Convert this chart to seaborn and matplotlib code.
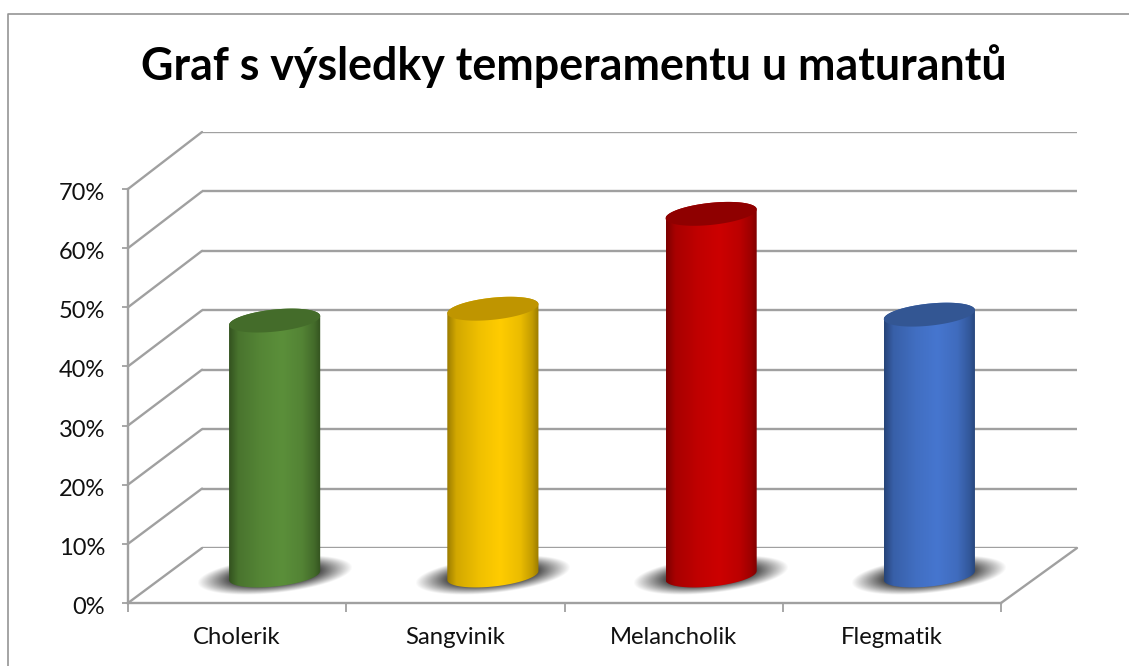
import numpy as np
import matplotlib
matplotlib.use("Agg")
import matplotlib.pyplot as plt
from matplotlib.colors import LinearSegmentedColormap, to_rgb
from matplotlib.lines import Line2D
from matplotlib.patches import Polygon, ConnectionPatch
from matplotlib.transforms import ScaledTranslation
import seaborn as sns

categories = ["Cholerik", "Sangvinik", "Melancholik", "Flegmatik"]
values = [43, 45, 61, 44]
y_ticks = [0, 10, 20, 30, 40, 50, 60, 70]
title = "Graf s výsledky temperamentu u maturantů"

# edge, centre and cap colour of each cylinder
edge_colors = ["#33521f", "#9a7b00", "#7c0000", "#264478"]
mid_colors = ["#5b8f3a", "#ffcc00", "#cc0000", "#4676cf"]
cap_colors = ["#446c2a", "#bf9500", "#8f0000", "#335693"]

W, H = 1129, 666
GRID = "#a0a0a0"
TILT = np.radians(6)
CAP_B = 11  # px, minor half axis of the cylinder ends

sns.set_theme(style="white")
plt.rcParams["font.family"] = ["Lato", "DejaVu Sans"]


def plane_axes(fig, left, right, y0, y70, zorder):
    ax = fig.add_axes([left / W, 1 - y0 / H, (right - left) / W, (y0 - y70) / H])
    ax.set_xlim(-0.5, 3.5)
    ax.set_ylim(0, 70)
    ax.patch.set_alpha(0)
    ax.set_zorder(zorder)
    return ax


def tilted(cx, cy, a, b, t, ppx, ppy):
    # tilted ellipse given in pixels, returned in data units
    x = a * np.cos(t) * np.cos(TILT) - b * np.sin(t) * np.sin(TILT)
    y = a * np.cos(t) * np.sin(TILT) + b * np.sin(t) * np.cos(TILT)
    return np.column_stack([cx + x / ppx, cy + y / ppy])


def blend(c1, c2, f):
    return tuple((1 - f) * np.array(to_rgb(c1)) + f * np.array(to_rgb(c2)))


fig = plt.figure(figsize=(W / 100, H / 100), dpi=100, facecolor="white")
# chart frame: only its top and left edges are inside the picture
fig.add_artist(Line2D([7.5 / W, 7.5 / W, 1], [0, 1 - 13.5 / H, 1 - 13.5 / H], transform=fig.transFigure,
                      color="#959595", linewidth=1.2))
fig.text(573.5 / W, 1 - 66 / H, title, ha="center", va="center", fontsize=32.2, fontweight="bold", color="black")

# back wall, front plane and the plane the cylinders stand on
back = plane_axes(fig, 202, 1077, 548, 132, 0)
front = plane_axes(fig, 128, 1001, 603, 189, 1)
ax = plane_axes(fig, 165.5, 1038.5, 575.5, 160.5, 2)

back.set_yticks(y_ticks)
back.set_xticks([])
back.tick_params(axis="y", left=False, labelleft=False)
back.grid(axis="y", color=GRID, linewidth=1.7)
sns.despine(ax=back, left=True, bottom=True)

front.set_xticks(np.arange(-0.5, 4))
front.set_xticklabels([])
front.set_xticks(range(4), categories, minor=True)
front.set_yticks(y_ticks, [f"{v}%" for v in y_ticks])
front.tick_params(axis="x", which="major", bottom=True, length=6.5, width=1.3, color=GRID)
front.tick_params(axis="x", which="minor", bottom=False, length=0, pad=17, labelsize=17.2, labelcolor="#111111")
front.tick_params(axis="y", left=True, length=4.5, width=1.3, color=GRID, pad=12, labelsize=17, labelcolor="#111111")
for label in front.get_yticklabels():
    label.set_transform(label.get_transform() + ScaledTranslation(0, -2.5 / 100, fig.dpi_scale_trans))
sns.despine(ax=front)
for side in ["left", "bottom"]:
    front.spines[side].set_color(GRID)
    front.spines[side].set_linewidth(1.7)

# oblique lines joining front plane and back wall
for v in y_ticks:
    fig.add_artist(ConnectionPatch((-0.5, v), (-0.5, v), coordsA=front.transData, coordsB=back.transData,
                                   color=GRID, linewidth=1.7))
fig.add_artist(ConnectionPatch((3.5, 0), (3.5, 0), coordsA=front.transData, coordsB=back.transData,
                               color=GRID, linewidth=1.7))

sns.barplot(x=categories, y=values, hue=categories, palette=mid_colors, width=0.417,
            legend=False, saturation=1, ax=ax)
ax.set_xlim(-0.5, 3.5)
ax.set_ylim(0, 70)
ax.set_xticks([])
ax.set_yticks([])
ax.set_xlabel("")
ax.set_ylabel("")
sns.despine(ax=ax, left=True, bottom=True)

ppx = 873 / 4
ppy = 415 / 70

for i, bar in enumerate(ax.patches):
    x0, w, top = bar.get_x(), bar.get_width(), bar.get_height()
    cx = x0 + w / 2
    a = w * ppx / 2 + 0.3
    t0 = np.arctan(-(CAP_B / a) * np.tan(TILT))

    # soft shadow on the floor
    sa, sb = 78, 18
    ext = 1.05
    gx, gy = np.meshgrid(np.linspace(-ext, ext, 300), np.linspace(-ext, ext, 150))
    px, py = gx * sa, gy * sa * 0.35
    u = px * np.cos(TILT) + py * np.sin(TILT)
    v = -px * np.sin(TILT) + py * np.cos(TILT)
    r = np.sqrt((u / sa) ** 2 + (v / sb) ** 2)
    shadow = np.zeros(r.shape + (4,))
    shadow[..., :3] = 0.27
    shadow[..., 3] = np.clip((1.0 - r) / 0.42, 0, 1) * 0.95
    im_s = ax.imshow(shadow, extent=[cx - ext * sa / ppx, cx + ext * sa / ppx,
                                     -ext * sa * 0.35 / ppy, ext * sa * 0.35 / ppy],
                     origin="lower", aspect="auto", zorder=1)
    im_s.set_clip_on(False)

    # cylinder body: rounded bottom, gradient clipped to the outline
    low = tilted(cx, 0, a, CAP_B, np.linspace(t0 + np.pi, t0 + 2 * np.pi, 80), ppx, ppy)
    up = tilted(cx, top, a, CAP_B, np.linspace(t0, t0 + np.pi, 80), ppx, ppy)
    body = Polygon(np.vstack([low, up]), closed=True, transform=ax.transData, facecolor="none",
                   edgecolor="none", clip_on=False)
    ax.add_patch(body)
    e, m = edge_colors[i], mid_colors[i]
    cmap = LinearSegmentedColormap.from_list(
        "cyl", [(0, e), (0.1, blend(e, m, 0.55)), (0.35, blend(e, m, 0.85)), (0.58, m),
                (0.8, blend(e, m, 0.8)), (0.93, blend(e, m, 0.4)), (1, e)])
    im = ax.imshow(np.linspace(0, 1, 256)[None, :], cmap=cmap, extent=[x0, x0 + w, -5, top + 5],
                   aspect="auto", zorder=2)
    im.set_clip_box(fig.bbox)
    im.set_clip_path(body)
    bar.set_visible(False)

    cap = Polygon(tilted(cx, top, a, CAP_B, np.linspace(0, 2 * np.pi, 120), ppx, ppy), closed=True,
                  facecolor=cap_colors[i], edgecolor="none", zorder=3, clip_on=False)
    ax.add_patch(cap)

ax.set_xlim(-0.5, 3.5)
ax.set_ylim(0, 70)

fig.savefig("out.png", dpi=100)
